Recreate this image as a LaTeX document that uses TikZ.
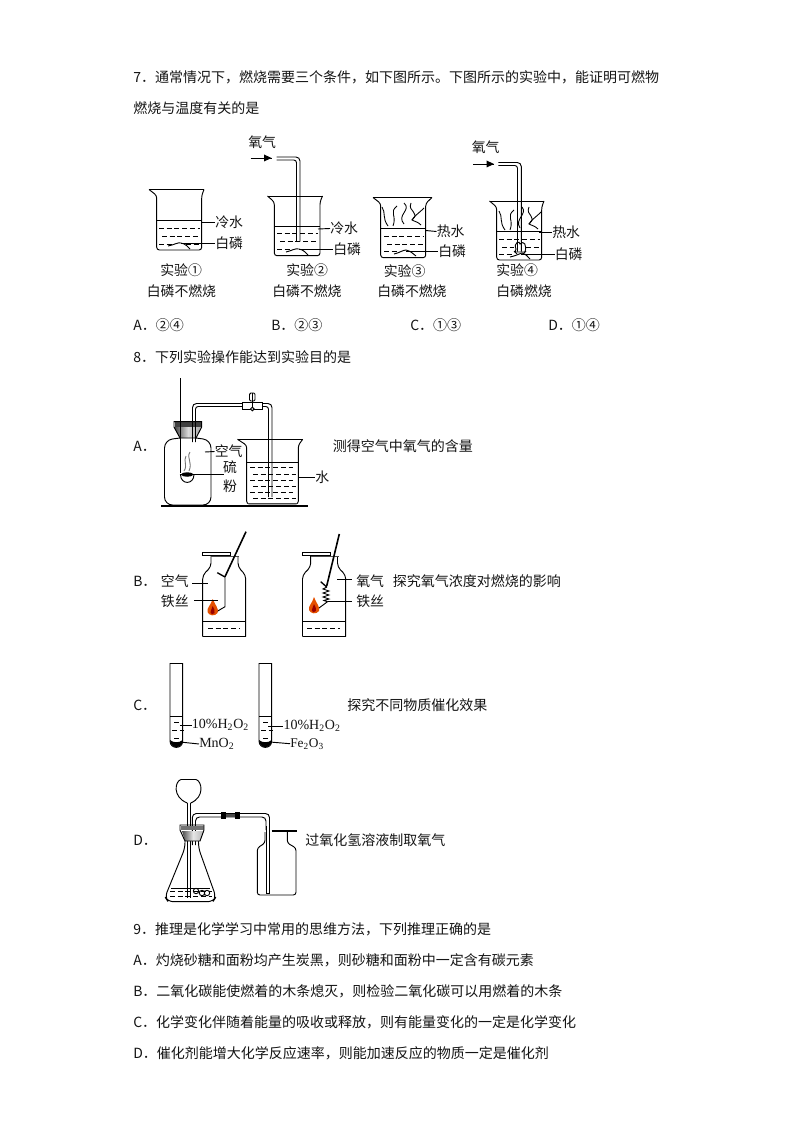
\documentclass[tikz,border=0pt]{standalone}
\usepackage{fontspec}
\setmainfont{Noto Sans CJK SC}
\newfontfamily\serifL{Liberation Serif}
\tikzset{
  ln/.style={line width=0.7pt,black},
  txt/.style={anchor=west,inner sep=0pt,font=\fontsize{10.5pt}{12pt}\selectfont,text=black!92},
  lbl/.style={anchor=west,inner sep=0pt,font=\fontsize{10.4pt}{12pt}\selectfont,text=black!92},
  dsh/.style={line width=0.6pt,black,dash pattern=on 3.6pt off 2.2pt},
  smoke/.style={line width=0.65pt,black},
  flame/.style={fill=orange!70!red!90!black,draw=none},
  flamein/.style={fill=red!60!black,draw=none},
}
% beaker: lipL lipR bodyL bodyR top bottom water
\newcommand{\mybeaker}[7]{%
  \draw[ln,rounded corners=2pt] (#1,#5) -- (#3,#5+6) -- (#3,#6) -- (#4,#6) -- (#4,#5+6) -- (#2,#5);
  \draw[ln] (#1,#5) -- (#2,#5);
  \draw[ln] (#3,#7) -- (#4,#7);
}
\newcommand{\mydash}[3]{\draw[dsh] (#1,#3) -- (#2,#3);}
\begin{document}
\begin{tikzpicture}[x=0.75pt,y=-0.75pt]
\useasboundingbox (0,0) rectangle (794,1123);
\fill[white] (0,0) rectangle (794,1123);
% question text
\node[txt] (q7a) at (133,77) {7．通常情况下，燃烧需要三个条件，如下图所示。下图所示的实验中，能证明可燃物};
\node[txt] (q7b) at (133,108) {燃烧与温度有关的是};
\node[txt] (q7A) at (133,325) {A．②④};
\node[txt] (q7B) at (271,325) {B．②③};
\node[txt] (q7C) at (410,325) {C．①③};
\node[txt] (q7D) at (548,325) {D．①④};
\node[txt] (q8) at (133,357) {8．下列实验操作能达到实验目的是};
\node[txt] (q8A) at (133,446) {A．};
\node[txt] (q8At) at (332.5,446) {测得空气中氧气的含量};
\node[txt] (q8B) at (133,581) {B．};
\node[txt] (q8Bt) at (392.5,581) {探究氧气浓度对燃烧的影响};
\node[txt] (q8C) at (133,705.5) {C．};
\node[txt] (q8Ct) at (347,705) {探究不同物质催化效果};
\node[txt] (q8D) at (133,840.5) {D．};
\node[txt] (q8Dt) at (305,840.5) {过氧化氢溶液制取氧气};
\node[txt] (q9) at (133,929) {9．推理是化学学习中常用的思维方法，下列推理正确的是};
\node[txt] (q9A) at (133,960) {A．灼烧砂糖和面粉均产生炭黑，则砂糖和面粉中一定含有碳元素};
\node[txt] (q9B) at (133,991) {B．二氧化碳能使燃着的木条熄灭，则检验二氧化碳可以用燃着的木条};
\node[txt] (q9C) at (133,1022) {C．化学变化伴随着能量的吸收或释放，则有能量变化的一定是化学变化};
\node[txt] (q9D) at (133,1053) {D．催化剂能增大化学反应速率，则能加速反应的物质一定是催化剂};

% ---------- Q7 experiment 1
\mybeaker{149}{204}{156.7}{201.7}{189.5}{250}{220.7}
\foreach \y/\a/\b in {228/159/200,236/162/200,244/159/172}{\mydash{\a}{\b}{\y}}
\mydash{186}{200}{244}
\draw[ln] (168,246) .. controls (174,245) and (178,242) .. (181,243) .. controls (186,244) and (188,247) .. (190,249);
\node[lbl] (c1) at (215,222.5) {冷水};
\node[lbl] (w1) at (215,243.5) {白磷};
\draw[ln] (201.7,222.5) -- (c1.west);
\draw[ln] (181,243.5) -- (w1.west);
\node[lbl] (e1) at (160,270) {实验①};
\node[lbl] (f1) at (146.5,291) {白磷不燃烧};

% ---------- experiment 2
\mybeaker{267.5}{322.5}{274.3}{320}{196}{255.7}{226.7}
\foreach \y/\a/\b in {233/277/318,241/280/318,249/277/290}{\mydash{\a}{\b}{\y}}
\draw[ln] (286,252) .. controls (291,251) and (295,248) .. (299,249) .. controls (304,250) and (306,253) .. (308,255);
\coordinate (g2a) at (271.5,158);
\node[lbl] (o2) at (248,142) {氧气};
\draw[ln] (250.5,158) -- (g2a);
\fill (271.5,158) -- (264,154.5) -- (264,161.5) -- cycle;
\draw[ln,rounded corners=3pt] (276.7,157) -- (300,157) -- (300,241.5);
\draw[ln,rounded corners=2pt] (276.7,160) -- (296.5,160) -- (296.5,241.5);
\node[lbl] (c2) at (330,228.5) {冷水};
\node[lbl] (w2) at (333,249.5) {白磷};
\draw[ln] (318,229) -- (c2.west);
\draw[ln] (299,249.5) -- (w2.west);
\node[lbl] (e2) at (286,270.5) {实验②};
\node[lbl] (f2) at (272,291) {白磷不燃烧};

% ---------- experiment 3
\mybeaker{373}{432}{380.7}{425.7}{197.5}{257.7}{228.5}
\foreach \y/\a/\b in {236/384/424,244/387/424,251/384/398}{\mydash{\a}{\b}{\y}}
\draw[ln] (394,254) .. controls (399,253) and (403,250) .. (406,250) .. controls (411,251) and (413,254) .. (416,256);
\foreach \p in {
 {(382,207) .. controls (386,213) and (382,218) .. (388,226)},
 {(397,206) .. controls (389,212) and (397,216) .. (393,226)},
 {(404,203) .. controls (412,210) and (396,215) .. (404,224)},
 {(411,203) .. controls (407,212) and (421,212) .. (412,220) .. controls (416,222) and (418,222) .. (421,225)},
 {(424,208) .. controls (418,214) and (414,216) .. (412,220)}}{\draw[smoke] \p;}
\node[lbl] (c3) at (436.5,231.5) {热水};
\node[lbl] (w3) at (438,251) {白磷};
\draw[ln] (425.7,230.5) -- (c3.west);
\draw[ln] (406,251) -- (w3.west);
\node[lbl] (e3) at (383.5,271) {实验③};
\node[lbl] (f3) at (377,291) {白磷不燃烧};

% ---------- experiment 4
\mybeaker{489.5}{544}{496.7}{541.7}{201}{260}{231.7}
\foreach \y/\a/\b in {239/499/540,247/502/514,254/499/512}{\mydash{\a}{\b}{\y}}
\mydash{526}{540}{247}
\draw[ln] (510,257) .. controls (515,256) and (519,254) .. (522,253) .. controls (526,254) and (528,257) .. (530,259);
\foreach \p in {
 {(499,211) .. controls (503,217) and (499,222) .. (505,230)},
 {(514,210) .. controls (506,216) and (514,220) .. (510,230)},
 {(522,207) .. controls (528,214) and (514,219) .. (520,228)},
 {(529,207) .. controls (525,216) and (538,216) .. (529,224) .. controls (533,226) and (535,226) .. (538,229)},
 {(541,212) .. controls (535,218) and (531,220) .. (529,224)}}{\draw[smoke] \p;}
\coordinate (g4a) at (494,164);
\node[lbl] (o4) at (471.5,147) {氧气};
\draw[ln] (473,164) -- (g4a);
\fill (494,164) -- (486.5,160.5) -- (486.5,167.5) -- cycle;
\draw[ln,rounded corners=3pt] (498.3,162.5) -- (521.3,162.5) -- (521.3,251.5);
\draw[ln,rounded corners=2pt] (498.3,165.5) -- (517.5,165.5) -- (517.5,251.5);
\draw[ln] (516,249) .. controls (513,243) and (520,240) .. (520,244) .. controls (524,240) and (527,245) .. (525,252) -- (515,252) -- cycle;
\draw[ln] (514,251) -- (517,254) (526,251) -- (523,254);
\node[lbl] (c4) at (552,232.5) {热水};
\node[lbl] (w4) at (554.5,254) {白磷};
\draw[ln] (539,232.5) -- (c4.west);
\draw[ln] (521,254) -- (w4.west);
\node[lbl] (e4) at (496,270.5) {实验④};
\node[lbl] (f4) at (496,291) {白磷燃烧};

% ---------- Q8 A
\draw[line width=1.5pt] (161,506) -- (307.7,506);
\draw[ln,rounded corners=6pt] (180,438) -- (164.5,440) -- (164.5,505) -- (211,505) -- (211,440) -- (196,438);
\path[left color=black!75,right color=black!35,middle color=black!15] (174,427) -- (202,427) -- (196,438) -- (180,438) -- cycle;
\fill[black!75] (175,421.5) rectangle (201,427);
\draw[ln] (174,421.7) -- (174,427) -- (180,438) -- (196,438) -- (201.7,427) -- (201.7,421.7) -- cycle;
\draw[ln] (180.7,378) -- (180.7,473);
\draw[ln] (180.5,474.5) .. controls (180.5,485) and (194,485) .. (194,474.5) -- cycle;
\fill[black] (180.5,474.5) .. controls (183,471.5) and (191.5,471.5) .. (194,474.5) .. controls (191,477.5) and (183,477.5) .. (180.5,474.5);
\foreach \p in {
 {(190,452) .. controls (186,458) and (193,462) .. (189,471)},
 {(186,456) .. controls (183,461) and (188,465) .. (184,471)}}{\draw[smoke,black!55] \p;}
\draw[ln,rounded corners=3pt] (192.5,442) -- (192.5,403.5) -- (242,403.5);
\draw[ln,rounded corners=2pt] (195.5,442) -- (195.5,406.5) -- (242,406.5);
\draw[ln,rounded corners=3pt] (262.5,403.5) -- (272,403.5) -- (272,497);
\draw[ln,rounded corners=2pt] (262.5,406.5) -- (268.5,406.5) -- (268.5,497);
\draw[ln,fill=white] (242,402) rectangle (262.7,409);
\draw[ln,fill=white,rounded corners=1pt] (249.5,393) rectangle (255,401);
\draw[ln] (252.3,393) -- (252.3,409);
\draw[ln,fill=white] (252.3,409) circle[radius=1.8];
\mybeaker{237.5}{302.7}{246.7}{298.3}{439.3}{504}{462.7}
\draw[line width=1pt,black!70] (248,503.3) -- (297,503.3);
\foreach \y/\a in {467/250,474/253,480/250,486/253,492/250,498/253}{\mydash{\a}{296}{\y}}
\node[lbl] (ak) at (214.5,451.5) {空气};
\draw[ln] (205,452) -- (ak.west);
\node[lbl] (al) at (220.5,467.5) {\,硫};
\node[lbl] (af) at (220.5,486.5) {\,粉};
\draw[ln] (188,474.5) -- (224,474.5);
\node[lbl] (as) at (315,477) {水};
\draw[ln] (298,477) -- (as.west);

% ---------- Q8 B bottles
% left bottle
\draw[ln,rounded corners=3pt] (211,556) -- (211,567) -- (202.7,575) -- (202.7,636.5);
\draw[ln,rounded corners=3pt] (238,556) -- (238,567) -- (245.7,575) -- (245.7,636.5);
\draw[line width=1.1pt] (202.7,636.5) -- (245.7,636.5);
\draw[ln] (202.7,621.7) -- (245.7,621.7);
\mydash{208}{240}{628}
\draw[ln,fill=white] (202.3,552.3) rectangle (230,555);
\draw[line width=1.2pt,black!70] (211,556.3) -- (239,556.3);
\draw[line width=1.2pt] (246,531.7) -- (225,576.7);
\draw[line width=1pt] (217.3,572.7) -- (225,577);
\draw[ln] (225,577) -- (225,606.7) -- (212.7,614);
\fill[flame] (212.7,599) .. controls (215,605) and (219.5,609) .. (217.5,613) .. controls (215,616.5) and (209,616) .. (207.5,612) .. controls (206.5,608) and (211,605) .. (212.7,599) -- cycle;
\fill[flamein] (212.7,606) .. controls (214,609) and (215.5,611) .. (214.5,613) .. controls (213,615) and (211,614.5) .. (210.5,612.5) .. controls (210.5,610.5) and (212,609) .. (212.7,606) -- cycle;
\node[lbl] (bk) at (160.7,581.5) {空气};
\node[lbl] (bt) at (160.7,601.5) {铁丝};
\coordinate (bka) at (208,583);
\coordinate (bta) at (218,600);
\draw[ln] (192.3,583) -- (bka);
\draw[ln] (194,600) -- (bta);
% right bottle
\draw[ln,rounded corners=3pt] (310.7,556) -- (310.7,567) -- (302.5,575) -- (302.5,636.5);
\draw[ln,rounded corners=3pt] (337.5,556) -- (337.5,567) -- (345.7,575) -- (345.7,636.5);
\draw[line width=1.1pt] (302.5,636.5) -- (345.7,636.5);
\draw[ln] (302.5,621) -- (345.7,621);
\mydash{307}{340}{628}
\draw[ln,fill=white] (302.3,552.3) rectangle (330.7,555);
\draw[line width=1.2pt,black!70] (311,556.3) -- (339,556.3);
\draw[line width=1.2pt] (339.3,534) -- (326.7,586);
\draw[line width=1pt] (320.7,581.7) -- (326.7,587);
\draw[ln] (327,587) -- (323,589) -- (329,591) -- (323,593) -- (329,595) -- (323,597) -- (329,599) -- (324,600.5) -- (327.5,601.7) -- (314,611.7);
\fill[flame] (314,597) .. controls (316,603) and (320.5,607) .. (319,611) .. controls (316.5,614.5) and (310.5,614) .. (309,610) .. controls (308,606) and (312.5,603) .. (314,597) -- cycle;
\fill[flamein] (314,604) .. controls (315.3,607) and (316.8,609) .. (315.8,611) .. controls (314.3,613) and (312.3,612.5) .. (311.8,610.5) .. controls (311.8,608.5) and (313.3,607) .. (314,604) -- cycle;
\node[lbl] (bo) at (356,581) {氧气};
\node[lbl] (bt2) at (356,601.5) {铁丝};
\coordinate (boa) at (337,579);
\coordinate (bta2) at (328,601.7);
\draw[ln] (boa) -- (352,579);
\draw[ln] (bta2) -- (352,601.7);

% ---------- Q8 C tubes
\foreach \xa/\xb/\w in {170/182.7/716,259/271.7/716.7}{
  \draw[ln] (\xa,663) -- (\xb,663);
  \draw[ln] (\xa,663) -- (\xa,741) .. controls (\xa,749.5) and (\xb,749.5) .. (\xb,741) -- (\xb,663);
  \draw[ln] (\xa,\w) -- (\xb,\w);
  \fill[black] (\xa,740) .. controls (\xa,749.5) and (\xb,749.5) .. (\xb,740) .. controls (\xb-3,743) and (\xa+3,743) .. (\xa,740) -- cycle;
  \foreach \d/\s in {6/3,14/1,22/3}{\draw[dsh] (\xa+\s+1,\w+\d) -- (\xb-\s+2,\w+\d);}
}
\newcommand{\chemf}{\serifL\fontsize{10.5pt}{12pt}\selectfont}
\node[lbl,font=\chemf] (ch1) at (191.7,725) {10\%H\textsubscript{2}O\textsubscript{2}};
\node[lbl,font=\chemf] (mn) at (199,744) {MnO\textsubscript{2}};
\node[lbl,font=\chemf] (ch2) at (283.3,726) {10\%H\textsubscript{2}O\textsubscript{2}};
\node[lbl,font=\serifL\fontsize{10pt}{12pt}\selectfont] (fe) at (290,743.7) {Fe\textsubscript{2}O\textsubscript{3}};
\draw[ln] (180,725) -- (ch1.west);
\draw[ln] (180,742) -- (mn.west);
\draw[ln] (268,726) -- (ch2.west);
\draw[ln] (270,742) -- (fe.west);

% ---------- Q8 D
% funnel
\draw[ln] (187.3,803) .. controls (172,797) and (175,781) .. (181,779.5) -- (196,779.5) .. controls (202,781) and (205,797) .. (190.7,803);
\draw[ln] (187.3,803) -- (187.3,826) (190.7,803) -- (190.7,826);
\draw[ln] (187.3,840) -- (187.3,898);
\draw[ln] (190.7,840) -- (190.7,898);
% flask
\draw[ln,rounded corners=4pt] (185,841) -- (185,848) -- (165,897) -- (168,901.7) -- (213,901.7) -- (216,897) -- (198.5,848) -- (198.5,841);
\draw[ln] (171,888) -- (210,888);
\foreach \y in {891,896}{\mydash{170}{212}{\y}}
% delivery tube
\draw[ln,rounded corners=3pt] (192.3,845) -- (192.3,813.5) -- (269.5,813.5) -- (269.5,830);
\draw[ln,rounded corners=3pt] (195.5,845) -- (195.5,817) -- (266,817) -- (266,830);
\draw[ln] (266,826) -- (266,893) -- (269.5,893) -- (269.5,826);
\fill[black] (220.5,811.5) rectangle (225.5,818.5);
\fill[black] (235,811.5) rectangle (240,818.5);
\fill[black!70] (225.5,813.5) rectangle (235,816.5);
% stopper
\path[left color=black!70,right color=black!30,middle color=black!10] (182,831) -- (204,831) -- (200,841) -- (185,841) -- cycle;
\fill[black!55] (181,826) rectangle (204,830);
\draw[ln] (180,825) -- (204,825) -- (204,830) -- (200,841) -- (185,841) -- (180,830) -- cycle;
% jar
\draw[ln,rounded corners=2pt] (265,832) -- (265,843) -- (257.3,848) -- (257.3,895) -- (296,895) -- (296,848) -- (287.3,843) -- (287.3,832);
\draw[line width=1.3pt] (271.7,830.7) -- (296.7,830.7);
% beads
\draw[ln] (196,891) circle[radius=2.7] (202,893) circle[radius=2.7] (207,893) circle[radius=2.7];
\end{tikzpicture}
\end{document}
